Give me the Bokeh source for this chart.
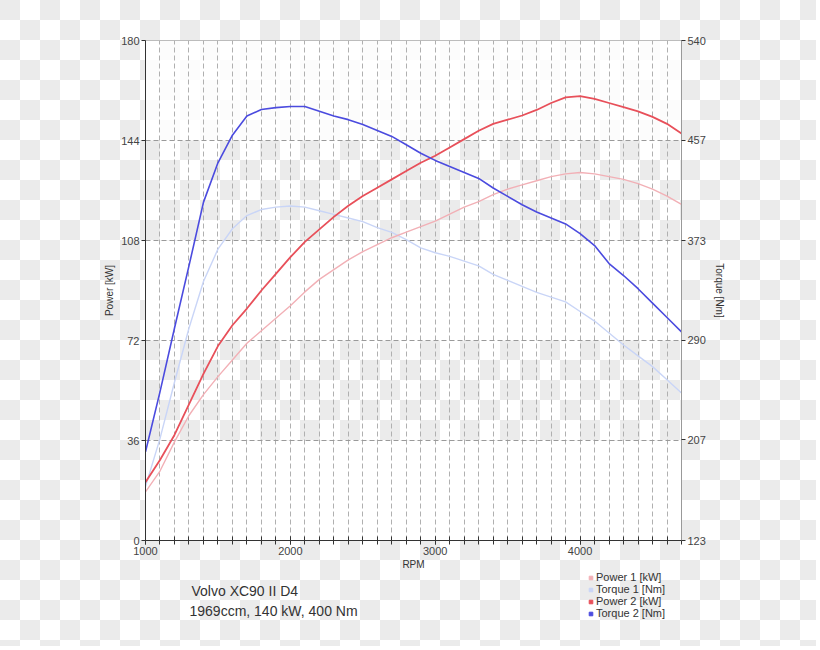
from bokeh.plotting import figure
from bokeh.layouts import column
from bokeh.models import (Range1d, LinearAxis, FixedTicker, BoxAnnotation, Label,
                          Legend, LegendItem, ColumnDataSource)
from bokeh.embed import file_html
from bokeh.resources import INLINE

# ---- data ----
rpm = list(range(1000, 4701, 100))
power1 = [17.5, 25, 35.5, 45, 52.5, 59, 65, 71, 75.5, 80, 84.5, 89.5, 94, 97.5, 101, 104,
          106.5, 109, 111, 113, 115, 117.5, 120, 122, 124.5, 126.5, 128, 129.5, 131, 132,
          132.5, 132, 131, 130, 128.5, 126.5, 124, 121]
torque1 = [168, 208, 255, 300, 339, 366, 383, 394, 399, 401, 402, 401, 398, 395, 392, 389,
           384, 380, 374, 367, 363, 360, 356, 352, 345, 340, 335, 330, 326, 322,
           314, 306, 296, 286, 277, 268, 257, 246]
power2 = [21, 29, 38, 49, 60, 70, 77.5, 83.5, 90, 96, 102, 107.5, 112, 116.5, 120.5, 124,
          127, 130, 133, 136, 138.5, 141.5, 144.5, 147.5, 150, 151.5, 153, 155, 157.5, 159.5,
          160, 159, 157.5, 156, 154.5, 152.5, 150, 146.5]
torque2 = [197, 247, 300, 352, 405, 438, 461, 477, 482.5, 484, 485, 485, 481, 477, 474, 470,
           465, 460, 453, 446, 440, 435, 430, 425, 417, 410, 403, 397, 392, 387,
           379, 369, 354, 344, 333, 321, 309, 297]

power_ticks = [0, 36, 72, 108, 144, 180]
torque_ticks = [123, 207, 290, 373, 457, 540]
rpm_major = [1000, 2000, 3000, 4000]
rpm_minor = list(range(1000, 4701, 100))
series_names = ["Power 1 [kW]", "Torque 1 [Nm]", "Power 2 [kW]", "Torque 2 [Nm]"]
title_lines = ["Volvo XC90 II D4", "1969ccm, 140 kW, 400 Nm"]

FONT = "Liberation Sans"
C_P1, C_T1, C_P2, C_T2 = "#f2b0b6", "#c9d5f7", "#e8505a", "#4b4bdf"
series_colors = [C_P1, C_T1, C_P2, C_T2]
W = 816
H1 = 572
H2 = 74
FRAME_LEFT = 145


def checker(offset_y):
    return {
        "background-image": "repeating-conic-gradient(#ffffff 0% 25%, #ebebeb 0% 50%)",
        "background-size": "40px 40px",
        "background-position": "0px %dpx" % (-offset_y),
    }


p = figure(width=W, height=H1, output_backend="svg", toolbar_location=None,
           x_range=Range1d(1000, 4700), y_range=Range1d(0, 180),
           min_border_left=FRAME_LEFT, min_border_right=W - 681, min_border_top=40,
           min_border_bottom=H1 - 540,
           x_axis_location=None, y_axis_location=None)
p.extra_y_ranges = {"torque": Range1d(123, 540)}
p.background_fill_color = None
p.border_fill_color = None
p.outline_line_color = "#aaaaaa"
p.outline_line_width = 1
p.styles = checker(0)

# white bands in the plot area
for lo, hi, a in [(0, 36, 1.0), (72, 108, 1.0), (144, 180, 0.85)]:
    p.add_layout(BoxAnnotation(bottom=lo, top=hi, fill_color="white", fill_alpha=a,
                               line_color=None, level="image"))

# axes
xa = LinearAxis(ticker=FixedTicker(ticks=rpm_major, minor_ticks=rpm_minor), axis_label="RPM")
ya = LinearAxis(ticker=FixedTicker(ticks=power_ticks), axis_label="Power [kW]")
yr = LinearAxis(ticker=FixedTicker(ticks=torque_ticks), axis_label="Torque [Nm]",
                y_range_name="torque")
for ax in (xa, ya, yr):
    ax.axis_line_color = "#333333"
    ax.major_tick_line_color = "#333333"
    ax.minor_tick_line_color = "#333333"
    ax.major_label_text_font = FONT
    ax.major_label_text_font_size = "11px"
    ax.major_label_text_color = "#444444"
    ax.axis_label_text_font = FONT
    ax.axis_label_text_font_size = "10px"
    ax.axis_label_text_font_style = "normal"
    ax.axis_label_text_color = "#333333"
    ax.major_tick_out = 4
    ax.major_tick_in = 0
    ax.major_label_standoff = 2
xa.major_tick_in = 4
xa.minor_tick_in = 4
xa.minor_tick_out = 4
xa.axis_label_standoff = 1
ya.minor_tick_line_color = None
yr.minor_tick_line_color = None
ya.axis_label_standoff = 3
yr.axis_label_standoff = 5
yr.axis_line_color = "#999999"
p.add_layout(xa, "below")
p.add_layout(ya, "left")
p.add_layout(yr, "right")

# grids
p.xgrid.ticker = FixedTicker(ticks=rpm_minor)
p.xgrid.grid_line_color = "#b0b0b0"
p.xgrid.grid_line_dash = "5 3"
p.ygrid.ticker = FixedTicker(ticks=power_ticks[1:-1])
p.ygrid.grid_line_color = "#9a9a9a"
p.ygrid.grid_line_dash = "5 3"

src = ColumnDataSource(dict(rpm=rpm, p1=power1, t1=torque1, p2=power2, t2=torque2))
p.line("rpm", "t1", source=src, color=C_T1, line_width=1.4, y_range_name="torque",
       line_join="round")
p.line("rpm", "p1", source=src, color=C_P1, line_width=1.4, line_join="round")
p.line("rpm", "p2", source=src, color=C_P2, line_width=1.8, line_join="round")
p.line("rpm", "t2", source=src, color=C_T2, line_width=1.6, y_range_name="torque",
       line_join="round")

# ---- lower strip: title texts and legend ----
q = figure(width=W, height=H2, output_backend="svg", toolbar_location=None,
           x_range=Range1d(0, 1), y_range=Range1d(0, 1),
           min_border_left=0, min_border_right=0, min_border_top=0, min_border_bottom=0,
           x_axis_location=None, y_axis_location=None)
q.background_fill_color = None
q.border_fill_color = None
q.outline_line_color = None
q.xgrid.visible = False
q.ygrid.visible = False
q.styles = checker(H1)

nan = float("nan")
items = []
for name, col in zip(series_names, series_colors):
    # swatch-only renderer: its single point has no position, so nothing is drawn in the strip
    r = q.scatter(x=[nan], y=[nan], marker="square", size=7, color=col)
    items.append(LegendItem(label=name, renderers=[r]))
leg = Legend(items=items, location=(586 - FRAME_LEFT, 27), background_fill_alpha=0,
             border_line_color=None, padding=0, margin=0, spacing=0,
             glyph_width=9, glyph_height=9, label_height=11, label_standoff=1,
             label_text_font=FONT, label_text_font_size="11px", label_text_color="#333333",
             label_text_line_height=1.0)
q.add_layout(leg, "center")

q.add_layout(Label(x=191 - FRAME_LEFT, y=56, x_units="screen", y_units="screen",
                   text=title_lines[0], text_font=FONT, text_font_size="14px",
                   text_color="#333333", text_baseline="alphabetic"))
q.add_layout(Label(x=189 - FRAME_LEFT, y=35.5, x_units="screen", y_units="screen",
                   text=title_lines[1], text_font=FONT, text_font_size="14px",
                   text_color="#333333", text_baseline="alphabetic"))

layout = column(p, q, spacing=0)
open("out.html", "w").write(file_html(layout, INLINE))
